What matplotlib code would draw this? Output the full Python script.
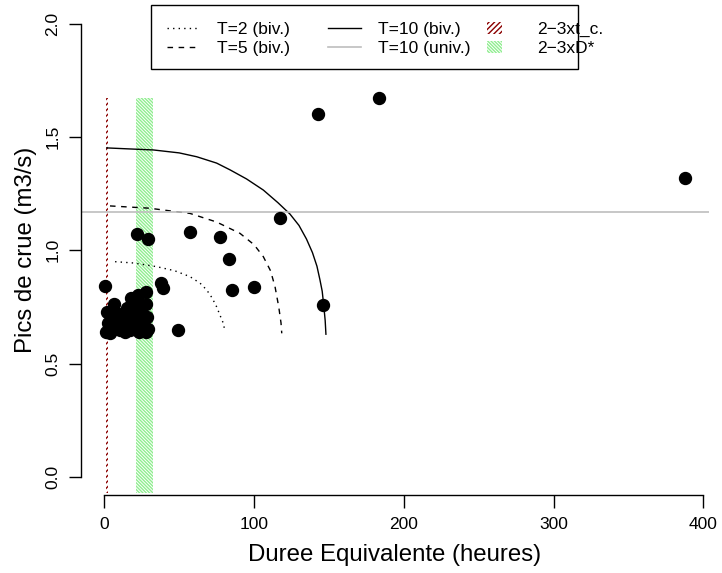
import numpy as np
import matplotlib
matplotlib.use("Agg")
import matplotlib.pyplot as plt
from matplotlib.lines import Line2D
from matplotlib.patches import Patch, Rectangle
from matplotlib.legend_handler import HandlerPatch

plt.rcParams['font.family'] = ['Liberation Sans', 'DejaVu Sans']
plt.rcParams['hatch.linewidth'] = 1.0

# observed events: duree equivalente (h), pic de crue (m3/s)
duree = [0.5, 1.6, 2.7, 1.1, 3.8, 6.5, 10.5, 11.6, 15.4, 15.0, 17.2, 17.6, 21.6, 22.7,
         26.0, 27.8, 27.8, 28.7, 29.4, 8.0, 13.0, 19.0, 24.0, 20.0, 12.0, 9.0, 25.0,
         18.0, 5.0, 14.0, 23.0, 28.0, 16.0, 22.0, 26.0, 7.0, 20.0, 24.0,
         21.6, 29.4, 38.0, 39.0, 49.4, 57.2, 77.3, 83.5, 85.5, 99.7, 117.3, 146.0,
         142.5, 183.5, 387.8]
pics = [0.843, 0.727, 0.678, 0.641, 0.634, 0.763, 0.649, 0.707, 0.744, 0.663, 0.649, 0.788,
        0.693, 0.803, 0.649, 0.818, 0.763, 0.707, 0.652, 0.70, 0.68, 0.72, 0.74, 0.66,
        0.72, 0.67, 0.70, 0.76, 0.65, 0.64, 0.64, 0.64, 0.70, 0.76, 0.68, 0.73, 0.70,
        0.66, 1.072, 1.05, 0.855, 0.832, 0.649, 1.08, 1.06, 0.960, 0.825, 0.840, 1.141,
        0.759, 1.600, 1.671, 1.319]

# bivariate return level curves
t2_x = [7.2, 20, 35, 47, 57.2, 64, 68.4, 72, 75, 77.5, 79.5, 80.6]
t2_y = [0.95, 0.944, 0.928, 0.91, 0.884, 0.855, 0.825, 0.79, 0.751, 0.71, 0.678, 0.641]
t5_x = [3.8, 30, 57.2, 75, 90.6, 100, 106.2, 111, 114, 116.5, 118, 118.5]
t5_y = [1.196, 1.186, 1.163, 1.125, 1.075, 1.025, 0.972, 0.91, 0.84, 0.75, 0.68, 0.634]
t10_x = [1.6, 15, 32.7, 50, 61.7, 75, 84, 95, 106.2, 116, 124, 130, 135, 139, 142,
         144, 145.5, 146.5, 147.5, 148]
t10_y = [1.452, 1.448, 1.443, 1.43, 1.413, 1.385, 1.355, 1.315, 1.266, 1.21, 1.16,
         1.11, 1.05, 0.99, 0.93, 0.87, 0.82, 0.76, 0.69, 0.63]
t10_univ = 1.17

# 2-3 intervals
xtc_band = [1.2, 2.8]
xd_band = [21.2, 32.3]
band_bottom = -0.07

xticks = [0, 100, 200, 300, 400]
yticks = [0.0, 0.5, 1.0, 1.5, 2.0]

W, H = 722, 573
fig = plt.figure(figsize=(W / 100, H / 100), dpi=100)

# plot region in pixels (R style, 4% extension)
x0px, x400px = 104.3, 703.3
y0px, y2px = 477.0, 23.7
sx = (x400px - x0px) / 400
sy = (y0px - y2px) / 2
xlim = (-15.52, 403.5)
ylim = (-0.08, 2.08)
left = x0px + xlim[0] * sx
right = x0px + xlim[1] * sx
bottom = y0px - ylim[0] * sy
top = y0px - ylim[1] * sy
ax = fig.add_axes([left / W, 1 - bottom / H, (right - left) / W, (bottom - top) / H])
ax.set_xlim(*xlim)
ax.set_ylim(*ylim)

green_hatch = '\\' * 10
ax.fill_between(xd_band, band_bottom, max(pics), facecolor='none', edgecolor='#90EE90',
                linewidth=0, hatch=green_hatch)
ax.fill_between(xtc_band, band_bottom, max(pics), facecolor='none', edgecolor='#8B0000',
                linewidth=0, hatch='//////')

ax.plot(duree, pics, 'o', color='black', markersize=8.6, zorder=3)
ax.plot(t2_x, t2_y, color='black', lw=1.0, linestyle=(0, (1, 3)))
ax.plot(t5_x, t5_y, color='black', lw=1.0, linestyle=(0, (4, 4)))
ax.plot(t10_x, t10_y, color='black', lw=1.0)
ax.axhline(t10_univ, color='#BEBEBE', lw=1.2)

for s in ['top', 'right']:
    ax.spines[s].set_visible(False)
ax.spines['left'].set_bounds(0, 2)
ax.spines['bottom'].set_bounds(0, 400)
ax.spines['left'].set_linewidth(1.0)
ax.spines['bottom'].set_linewidth(1.0)
ax.set_xticks(xticks)
ax.set_yticks(yticks)
ax.set_yticklabels(['%.1f' % v for v in yticks])
ax.tick_params(length=9, width=1.0, labelsize=12.5, pad=6.5)
ax.tick_params(axis='y', labelrotation=90, pad=6)
for lab in ax.get_yticklabels():
    lab.set_va('center')
ax.set_xlabel('Duree Equivalente (heures)', fontsize=17.3, labelpad=9)
ax.set_ylabel('Pics de crue (m3/s)', fontsize=17.3, labelpad=6)


def box_patch(legend, orig_handle, xdescent, ydescent, width, height, fontsize):
    return Rectangle((-xdescent, -ydescent), 10.8, height)


columns = [
    ([Line2D([], [], color='black', lw=1.0, linestyle=(0, (1, 3))),
      Line2D([], [], color='black', lw=1.0, linestyle=(0, (4, 4)))],
     ['T=2 (biv.)', 'T=5 (biv.)'], 167),
    ([Line2D([], [], color='black', lw=1.0),
      Line2D([], [], color='#BEBEBE', lw=1.2)],
     ['T=10 (biv.)', 'T=10 (univ.)'], 328),
    ([Patch(facecolor='none', edgecolor='#8B0000', linewidth=0, hatch='//////'),
      Patch(facecolor='none', edgecolor='#90EE90', linewidth=0, hatch=green_hatch)],
     ['2\u22123xt_c.', '2\u22123xD*'], 487),
]

frame = Rectangle((151 / W, 1 - 69 / H), 427 / W, 64 / H, transform=fig.transFigure,
                  facecolor='white', edgecolor='black', lw=1.0, zorder=4)
fig.add_artist(frame)

for handles, labels, xpx in columns:
    fig.legend(handles, labels, loc='upper left', bbox_to_anchor=(xpx / W, 1 - 22 / H),
               bbox_transform=fig.transFigure, frameon=False, fontsize=12.5,
               borderpad=0, borderaxespad=0, labelspacing=0.22, handlelength=1.9,
               handletextpad=0.98, handleheight=0.7,
               handler_map={Patch: HandlerPatch(patch_func=box_patch)})

fig.savefig('out.png', dpi=100)
